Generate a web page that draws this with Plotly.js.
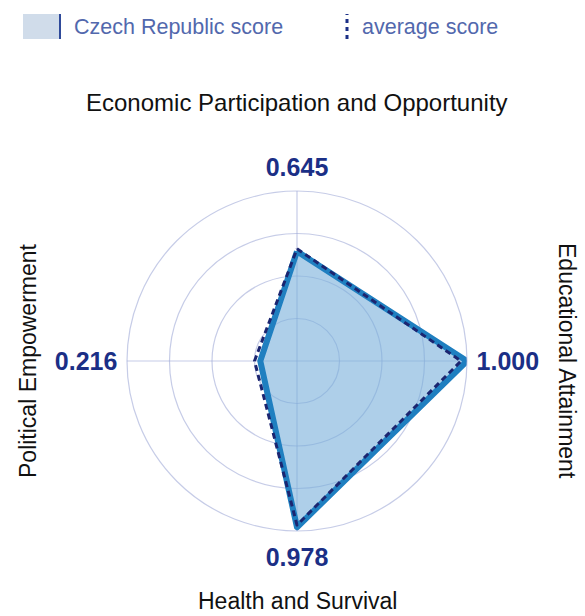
<!DOCTYPE html>
<html>
<head>
<meta charset="utf-8">
<script src="https://cdn.plot.ly/plotly-3.0.1.min.js"></script>
<style>
html,body{margin:0;padding:0;background:#fff;}
#chart{width:585px;height:616px;}
.scatterlayer path.js-line{stroke-linejoin:round !important;}
</style>
</head>
<body>
<div id="chart"></div>
<script>
var categories = ['Economic Participation and Opportunity', 'Educational Attainment', 'Health and Survival', 'Political Empowerment'];
var czechScore = [0.645, 1.000, 0.978, 0.216];
var averageScore = [0.66, 0.965, 0.965, 0.25];
var tickLabels = ['0.645', '1.000', '0.978', '0.216'];
var seriesNames = ['Czech Republic score', 'average score'];

var closeArr = function (a) { return a.concat([a[0]]); };

var traces = [
  {
    type: 'scatterpolar',
    r: closeArr(czechScore),
    theta: closeArr(categories),
    name: seriesNames[0],
    mode: 'lines',
    fill: 'toself',
    fillcolor: 'rgba(120,175,218,0.6)',
    line: {color: '#1f7fc0', width: 6},
    hoverinfo: 'skip'
  },
  {
    type: 'scatterpolar',
    r: closeArr(averageScore),
    theta: closeArr(categories),
    name: seriesNames[1],
    mode: 'lines',
    line: {color: '#1b2570', width: 3, dash: '6px,4px'},
    hoverinfo: 'skip'
  }
];

var W = 585, H = 616, cx = 297, cy = 361, R = 170;
var px = function (x) { return x / W; };
var py = function (y) { return 1 - y / H; };

var layout = {
  width: W, height: H,
  margin: {l: 0, r: 0, t: 0, b: 0},
  paper_bgcolor: '#fff',
  font: {family: 'Liberation Sans, Arial, sans-serif'},
  showlegend: false,
  polar: {
    domain: {x: [(cx - R) / W, (cx + R) / W], y: [(H - cy - R) / H, (H - cy + R) / H]},
    bgcolor: 'rgba(0,0,0,0)',
    radialaxis: {
      range: [0, 1],
      tickvals: [0.25, 0.5, 0.75, 1.0],
      showticklabels: false,
      ticks: '',
      showline: false,
      gridcolor: 'rgba(160,170,215,0.6)',
      gridwidth: 1.2,
      angle: 90
    },
    angularaxis: {
      rotation: 90,
      direction: 'clockwise',
      tickmode: 'array',
      tickvals: categories,
      ticktext: tickLabels,
      ticks: 'outside',
      ticklen: 4,
      tickcolor: 'rgba(0,0,0,0)',
      tickfont: {size: 25, color: '#1b2f86', family: 'Liberation Sans, Arial, sans-serif', weight: 'bold'},
      linecolor: 'rgba(160,170,215,0.6)',
      linewidth: 1.2,
      gridcolor: 'rgba(160,170,215,0.6)',
      gridwidth: 1.2
    }
  },
  shapes: [
    {type: 'rect', xref: 'paper', yref: 'paper', x0: px(23), x1: px(59), y0: py(39), y1: py(14), fillcolor: '#d0dcea', line: {width: 0}},
    {type: 'line', xref: 'paper', yref: 'paper', x0: px(60), x1: px(60), y0: py(39), y1: py(14), line: {color: '#2f4a9a', width: 2}},
    {type: 'line', xref: 'paper', yref: 'paper', x0: px(347), x1: px(347), y0: py(39), y1: py(14), line: {color: '#1b2f86', width: 3, dash: '4px,4px'}}
  ],
  annotations: [
    {text: seriesNames[0], x: px(72), y: py(27), xref: 'paper', yref: 'paper', showarrow: false, xanchor: 'left', yanchor: 'middle', font: {size: 21.5, color: '#5268ad'}},
    {text: seriesNames[1], x: px(360), y: py(27), xref: 'paper', yref: 'paper', showarrow: false, xanchor: 'left', yanchor: 'middle', font: {size: 21.5, color: '#5268ad'}},
    {text: categories[0], x: px(cx), y: py(102), xref: 'paper', yref: 'paper', showarrow: false, xanchor: 'center', yanchor: 'middle', font: {size: 24, color: '#111'}},
    {text: categories[1], x: px(567), y: py(cy), xref: 'paper', yref: 'paper', showarrow: false, textangle: 90, xanchor: 'center', yanchor: 'middle', font: {size: 23, color: '#111'}},
    {text: categories[2], x: px(cx), y: py(601), xref: 'paper', yref: 'paper', showarrow: false, xanchor: 'center', yanchor: 'middle', font: {size: 23, color: '#111'}},
    {text: categories[3], x: px(28), y: py(cy), xref: 'paper', yref: 'paper', showarrow: false, textangle: -90, xanchor: 'center', yanchor: 'middle', font: {size: 23, color: '#111'}}
  ]
};

Plotly.newPlot('chart', traces, layout, {displayModeBar: false, staticPlot: true});
</script>
</body>
</html>
